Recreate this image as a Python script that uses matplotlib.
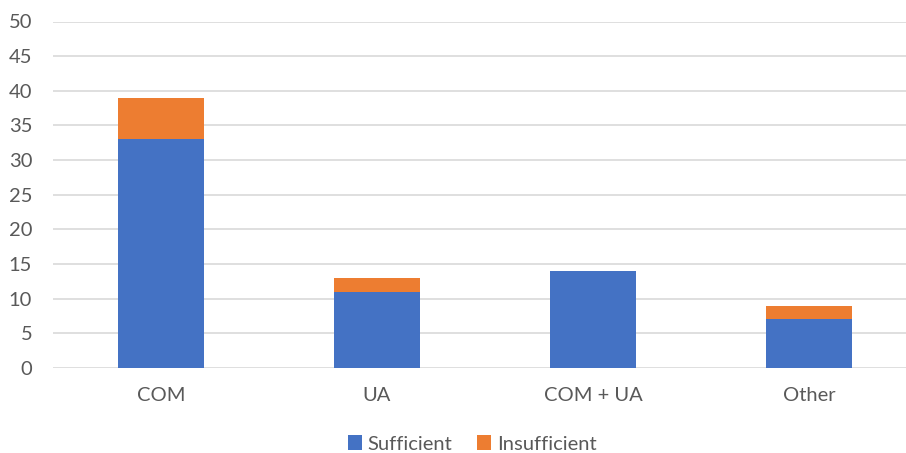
import matplotlib.pyplot as plt
import numpy as np

categories = ["COM", "UA", "COM + UA", "Other"]
sufficient = [33, 11, 14, 7]
insufficient = [6, 2, 0, 2]

BLUE = "#4472C4"
ORANGE = "#ED7D31"
TEXT = "#595959"

plt.rcParams["font.family"] = ["Lato", "DejaVu Sans"]

fig = plt.figure(figsize=(9.06, 4.53), dpi=100)
ax = fig.add_axes([53 / 906, 85 / 453, 864 / 906, 346.5 / 453])

x = np.arange(len(categories))
ax.bar(x, sufficient, width=0.4, color=BLUE, label="Sufficient", zorder=3)
ax.bar(x, insufficient, width=0.4, bottom=sufficient, color=ORANGE,
       label="Insufficient", zorder=3)

ax.set_xlim(-0.5, len(categories) - 0.5)
ax.set_ylim(0, 50)
ax.set_yticks(np.arange(0, 51, 5))
ax.set_xticks(x)
ax.set_xticklabels(categories)
ax.yaxis.grid(True, color="#d9d9d9", linewidth=1.2, zorder=0)
ax.tick_params(axis="both", length=0, labelsize=14.5, colors=TEXT)
ax.tick_params(axis="x", pad=14)
ax.tick_params(axis="y", pad=15)
for s in ax.spines.values():
    s.set_visible(False)

fig.legend(loc="center", bbox_to_anchor=(472 / 906, 1 - 444 / 453), ncol=2,
           frameon=False, fontsize=14.5, labelcolor=TEXT, handlelength=0.7,
           handleheight=0.7, handletextpad=0.3, columnspacing=1.2)

fig.savefig("out.png", dpi=100)
